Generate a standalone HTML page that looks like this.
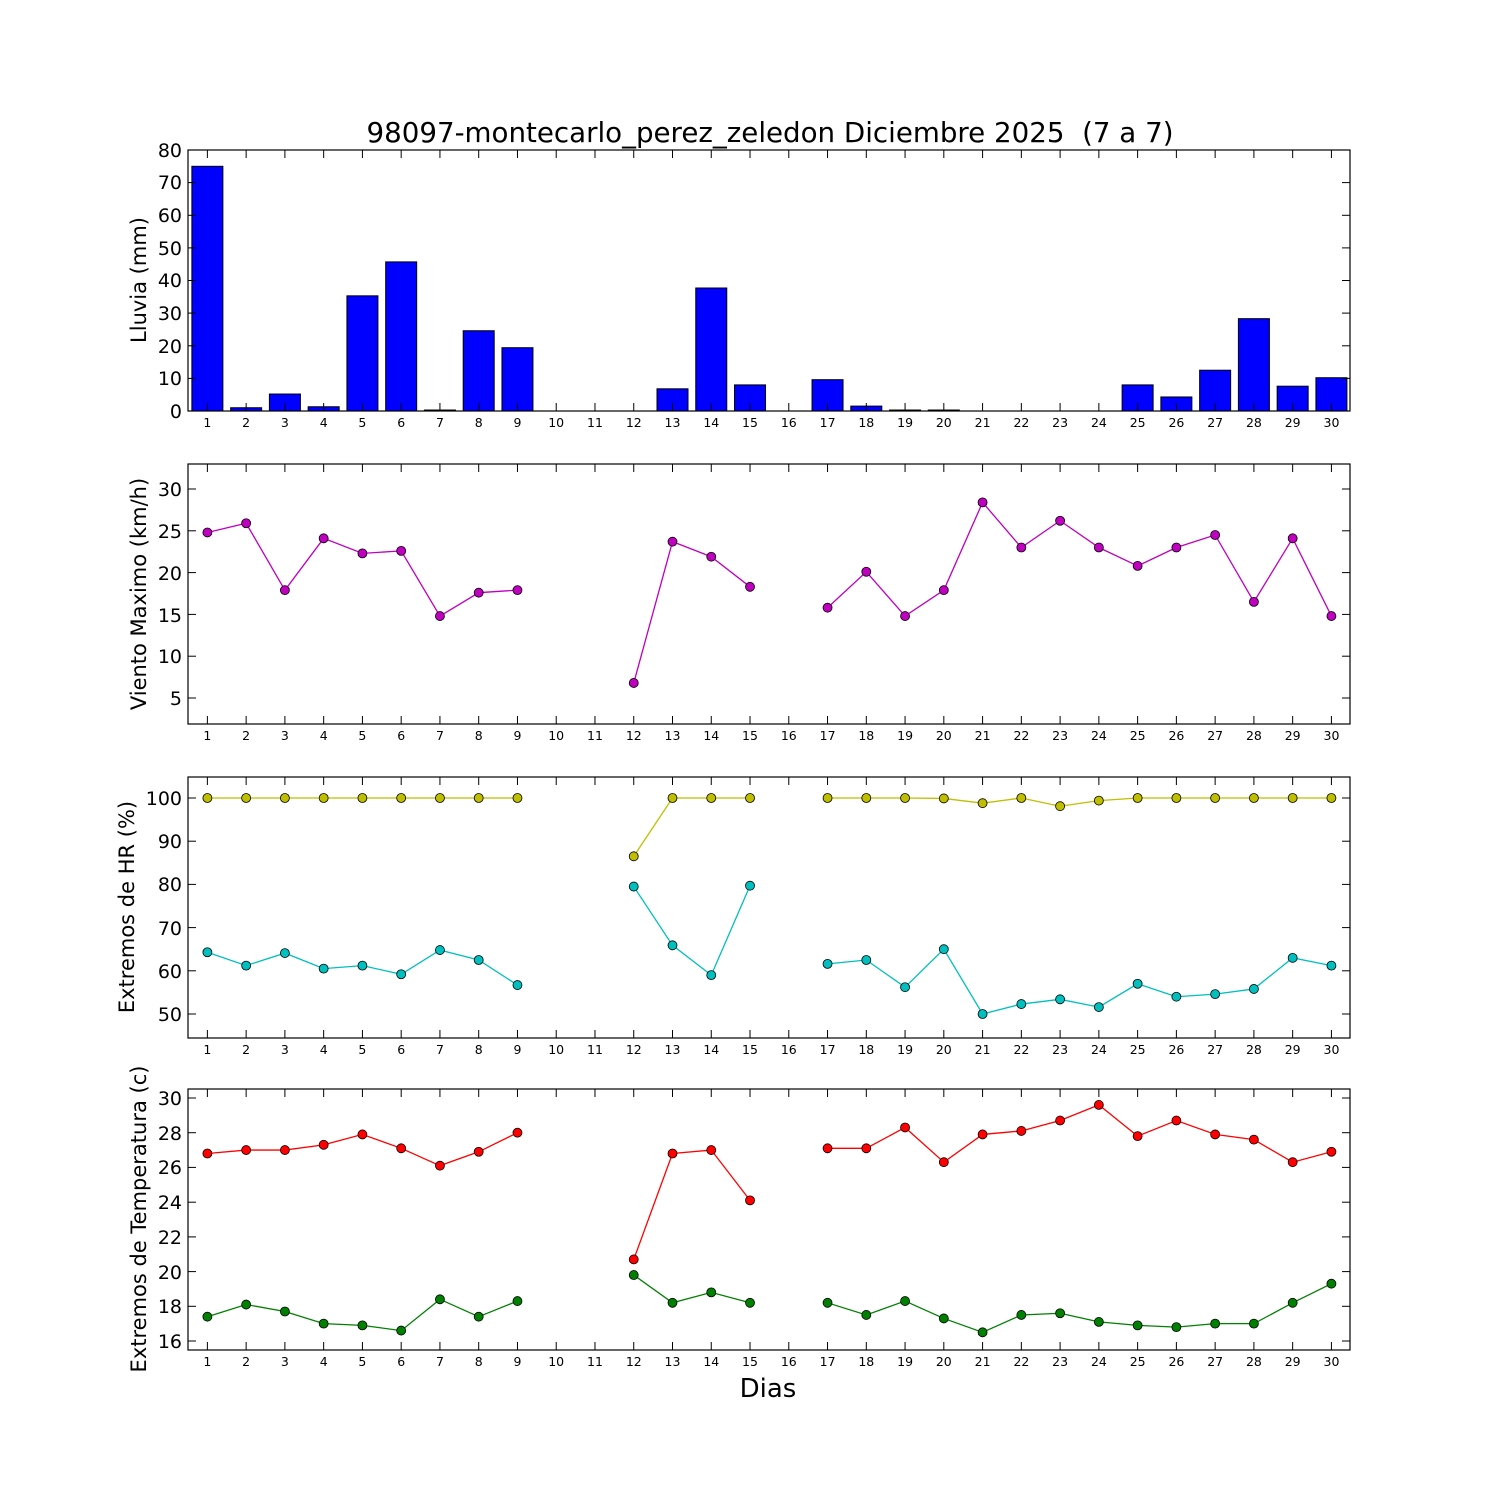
<!DOCTYPE html>
<html><head><meta charset="utf-8"><style>
body{margin:0;background:#fff}
svg{display:block}
text{font-family:"DejaVu Sans","Liberation Sans",sans-serif;fill:#000}
.xt{font-size:12.5px;text-anchor:middle}
.yt{font-size:19px;text-anchor:end}
.yl{font-size:21px;text-anchor:middle}
</style></head><body>
<svg id="s" width="1500" height="1500" xmlns="http://www.w3.org/2000/svg">
<rect width="1500" height="1500" fill="#fff"/>
<g id="g"></g>
<text x="770" y="142" style="font-size:27.7px;text-anchor:middle">98097-montecarlo_perez_zeledon Diciembre 2025&#160; (7 a 7)</text>
<text x="768" y="1397" style="font-size:26px;text-anchor:middle">Dias</text>
<text class="yl" transform="translate(146,280) rotate(-90)">Lluvia (mm)</text>
<text class="yl" transform="translate(146,594) rotate(-90)">Viento Maximo (km/h)</text>
<text class="yl" transform="translate(134,907) rotate(-90)">Extremos de HR (%)</text>
<text class="yl" transform="translate(146,1219) rotate(-90)">Extremos de Temperatura (c)</text>
<g>
<text class="yt" x="182" y="418">0</text><text class="yt" x="182" y="385">10</text><text class="yt" x="182" y="353">20</text><text class="yt" x="182" y="320">30</text><text class="yt" x="182" y="287">40</text><text class="yt" x="182" y="255">50</text><text class="yt" x="182" y="222">60</text><text class="yt" x="182" y="189">70</text><text class="yt" x="182" y="157">80</text>
<text class="yt" x="182" y="705">5</text><text class="yt" x="182" y="663">10</text><text class="yt" x="182" y="622">15</text><text class="yt" x="182" y="580">20</text><text class="yt" x="182" y="538">25</text><text class="yt" x="182" y="496">30</text>
<text class="yt" x="182" y="1021">50</text><text class="yt" x="182" y="978">60</text><text class="yt" x="182" y="935">70</text><text class="yt" x="182" y="891">80</text><text class="yt" x="182" y="848">90</text><text class="yt" x="182" y="805">100</text>
<text class="yt" x="182" y="1348">16</text><text class="yt" x="182" y="1313">18</text><text class="yt" x="182" y="1279">20</text><text class="yt" x="182" y="1244">22</text><text class="yt" x="182" y="1209">24</text><text class="yt" x="182" y="1174">26</text><text class="yt" x="182" y="1140">28</text><text class="yt" x="182" y="1105">30</text>
</g>
<text class="xt" y="427"><tspan x="207.4">1</tspan><tspan x="246.1">2</tspan><tspan x="284.9">3</tspan><tspan x="323.7">4</tspan><tspan x="362.4">5</tspan><tspan x="401.2">6</tspan><tspan x="440">7</tspan><tspan x="478.7">8</tspan><tspan x="517.5">9</tspan><tspan x="556.2">10</tspan><tspan x="595">11</tspan><tspan x="633.8">12</tspan><tspan x="672.5">13</tspan><tspan x="711.3">14</tspan><tspan x="750">15</tspan><tspan x="788.8">16</tspan><tspan x="827.6">17</tspan><tspan x="866.3">18</tspan><tspan x="905.1">19</tspan><tspan x="943.8">20</tspan><tspan x="982.6">21</tspan><tspan x="1021.4">22</tspan><tspan x="1060.1">23</tspan><tspan x="1098.9">24</tspan><tspan x="1137.7">25</tspan><tspan x="1176.4">26</tspan><tspan x="1215.2">27</tspan><tspan x="1253.9">28</tspan><tspan x="1292.7">29</tspan><tspan x="1331.5">30</tspan></text>
<text class="xt" y="740"><tspan x="207.4">1</tspan><tspan x="246.1">2</tspan><tspan x="284.9">3</tspan><tspan x="323.7">4</tspan><tspan x="362.4">5</tspan><tspan x="401.2">6</tspan><tspan x="440">7</tspan><tspan x="478.7">8</tspan><tspan x="517.5">9</tspan><tspan x="556.2">10</tspan><tspan x="595">11</tspan><tspan x="633.8">12</tspan><tspan x="672.5">13</tspan><tspan x="711.3">14</tspan><tspan x="750">15</tspan><tspan x="788.8">16</tspan><tspan x="827.6">17</tspan><tspan x="866.3">18</tspan><tspan x="905.1">19</tspan><tspan x="943.8">20</tspan><tspan x="982.6">21</tspan><tspan x="1021.4">22</tspan><tspan x="1060.1">23</tspan><tspan x="1098.9">24</tspan><tspan x="1137.7">25</tspan><tspan x="1176.4">26</tspan><tspan x="1215.2">27</tspan><tspan x="1253.9">28</tspan><tspan x="1292.7">29</tspan><tspan x="1331.5">30</tspan></text>
<text class="xt" y="1054"><tspan x="207.4">1</tspan><tspan x="246.1">2</tspan><tspan x="284.9">3</tspan><tspan x="323.7">4</tspan><tspan x="362.4">5</tspan><tspan x="401.2">6</tspan><tspan x="440">7</tspan><tspan x="478.7">8</tspan><tspan x="517.5">9</tspan><tspan x="556.2">10</tspan><tspan x="595">11</tspan><tspan x="633.8">12</tspan><tspan x="672.5">13</tspan><tspan x="711.3">14</tspan><tspan x="750">15</tspan><tspan x="788.8">16</tspan><tspan x="827.6">17</tspan><tspan x="866.3">18</tspan><tspan x="905.1">19</tspan><tspan x="943.8">20</tspan><tspan x="982.6">21</tspan><tspan x="1021.4">22</tspan><tspan x="1060.1">23</tspan><tspan x="1098.9">24</tspan><tspan x="1137.7">25</tspan><tspan x="1176.4">26</tspan><tspan x="1215.2">27</tspan><tspan x="1253.9">28</tspan><tspan x="1292.7">29</tspan><tspan x="1331.5">30</tspan></text>
<text class="xt" y="1366"><tspan x="207.4">1</tspan><tspan x="246.1">2</tspan><tspan x="284.9">3</tspan><tspan x="323.7">4</tspan><tspan x="362.4">5</tspan><tspan x="401.2">6</tspan><tspan x="440">7</tspan><tspan x="478.7">8</tspan><tspan x="517.5">9</tspan><tspan x="556.2">10</tspan><tspan x="595">11</tspan><tspan x="633.8">12</tspan><tspan x="672.5">13</tspan><tspan x="711.3">14</tspan><tspan x="750">15</tspan><tspan x="788.8">16</tspan><tspan x="827.6">17</tspan><tspan x="866.3">18</tspan><tspan x="905.1">19</tspan><tspan x="943.8">20</tspan><tspan x="982.6">21</tspan><tspan x="1021.4">22</tspan><tspan x="1060.1">23</tspan><tspan x="1098.9">24</tspan><tspan x="1137.7">25</tspan><tspan x="1176.4">26</tspan><tspan x="1215.2">27</tspan><tspan x="1253.9">28</tspan><tspan x="1292.7">29</tspan><tspan x="1331.5">30</tspan></text>
</svg>
<script>
const g=document.getElementById('g');let h='';
const X=d=>188+(d-0.5)*38.76;
const N=null;
const rain=[75,1,5.2,1.3,35.3,45.7,0.3,24.6,19.4,0,0,0,6.8,37.7,8,0,9.6,1.5,0.3,0.3,0,0,0,0,8,4.3,12.5,28.3,7.6,10.2];
rain.forEach((v,i)=>{const x=X(i+1)-15.5,hh=v*3.2625;h+=`<rect x="${x}" y="${411-hh}" width="31" height="${hh}" fill="#0000ff" stroke="#000" stroke-width="1"/>`;});
function series(vals,y0,ymin,sc,col){let segs=[],cur=[];vals.forEach((v,i)=>{if(v===N){if(cur.length)segs.push(cur);cur=[];}else cur.push([X(i+1),y0-(v-ymin)*sc]);});if(cur.length)segs.push(cur);
segs.forEach(s=>{if(s.length>1)h+=`<polyline points="${s.map(p=>p.join(',')).join(' ')}" fill="none" stroke="${col}" stroke-width="1.3"/>`;s.forEach(p=>h+=`<circle cx="${p[0]}" cy="${p[1]}" r="4.5" fill="${col}" stroke="#000" stroke-width="0.8"/>`);});}
series([24.8,25.9,17.9,24.1,22.3,22.6,14.8,17.6,17.9,N,N,6.8,23.7,21.9,18.3,N,15.8,20.1,14.8,17.9,28.4,23,26.2,23,20.8,23,24.5,16.5,24.1,14.8],698,5,8.36,'#bf00bf');
series([100,100,100,100,100,100,100,100,100,N,N,86.5,100,100,100,N,100,100,100,99.9,98.8,100,98.1,99.4,100,100,100,100,100,100],1014,50,4.32,'#bfbf00');
series([64.3,61.2,64.1,60.5,61.2,59.2,64.8,62.5,56.7,N,N,79.5,65.9,59,79.7,N,61.6,62.5,56.2,65,50,52.3,53.4,51.6,57,54,54.6,55.8,63,61.2],1014,50,4.32,'#00bfbf');
series([26.8,27,27,27.3,27.9,27.1,26.1,26.9,28,N,N,20.7,26.8,27,24.1,N,27.1,27.1,28.3,26.3,27.9,28.1,28.7,29.6,27.8,28.7,27.9,27.6,26.3,26.9],1341,16,17.36,'#ff0000');
series([17.4,18.1,17.7,17,16.9,16.6,18.4,17.4,18.3,N,N,19.8,18.2,18.8,18.2,N,18.2,17.5,18.3,17.3,16.5,17.5,17.6,17.1,16.9,16.8,17,17,18.2,19.3],1341,16,17.36,'#008000');
const panels=[[150,411,[411,378.4,345.8,313.1,280.5,247.9,215.3,182.6,150]],[464,724,[698,656.2,614.4,572.6,530.8,489]],[777,1038,[1014,970.8,927.6,884.4,841.2,798]],[1089,1350,[1341,1306.3,1271.6,1236.9,1202.2,1167.4,1132.7,1098]]];
panels.forEach(([t,b,ys])=>{h+=`<rect x="188" y="${t}" width="1162" height="${b-t}" fill="none" stroke="#000" stroke-width="1.2"/>`;
ys.forEach(y=>h+=`<line x1="188" x2="196" y1="${y}" y2="${y}" stroke="#000"/><line x1="1342" x2="1350" y1="${y}" y2="${y}" stroke="#000"/>`);
for(let d=1;d<=30;d++){const x=X(d);h+=`<line x1="${x}" x2="${x}" y1="${b}" y2="${b-8}" stroke="#000"/><line x1="${x}" x2="${x}" y1="${t}" y2="${t+8}" stroke="#000"/>`;}});
g.innerHTML=h;
</script>
</body></html>
